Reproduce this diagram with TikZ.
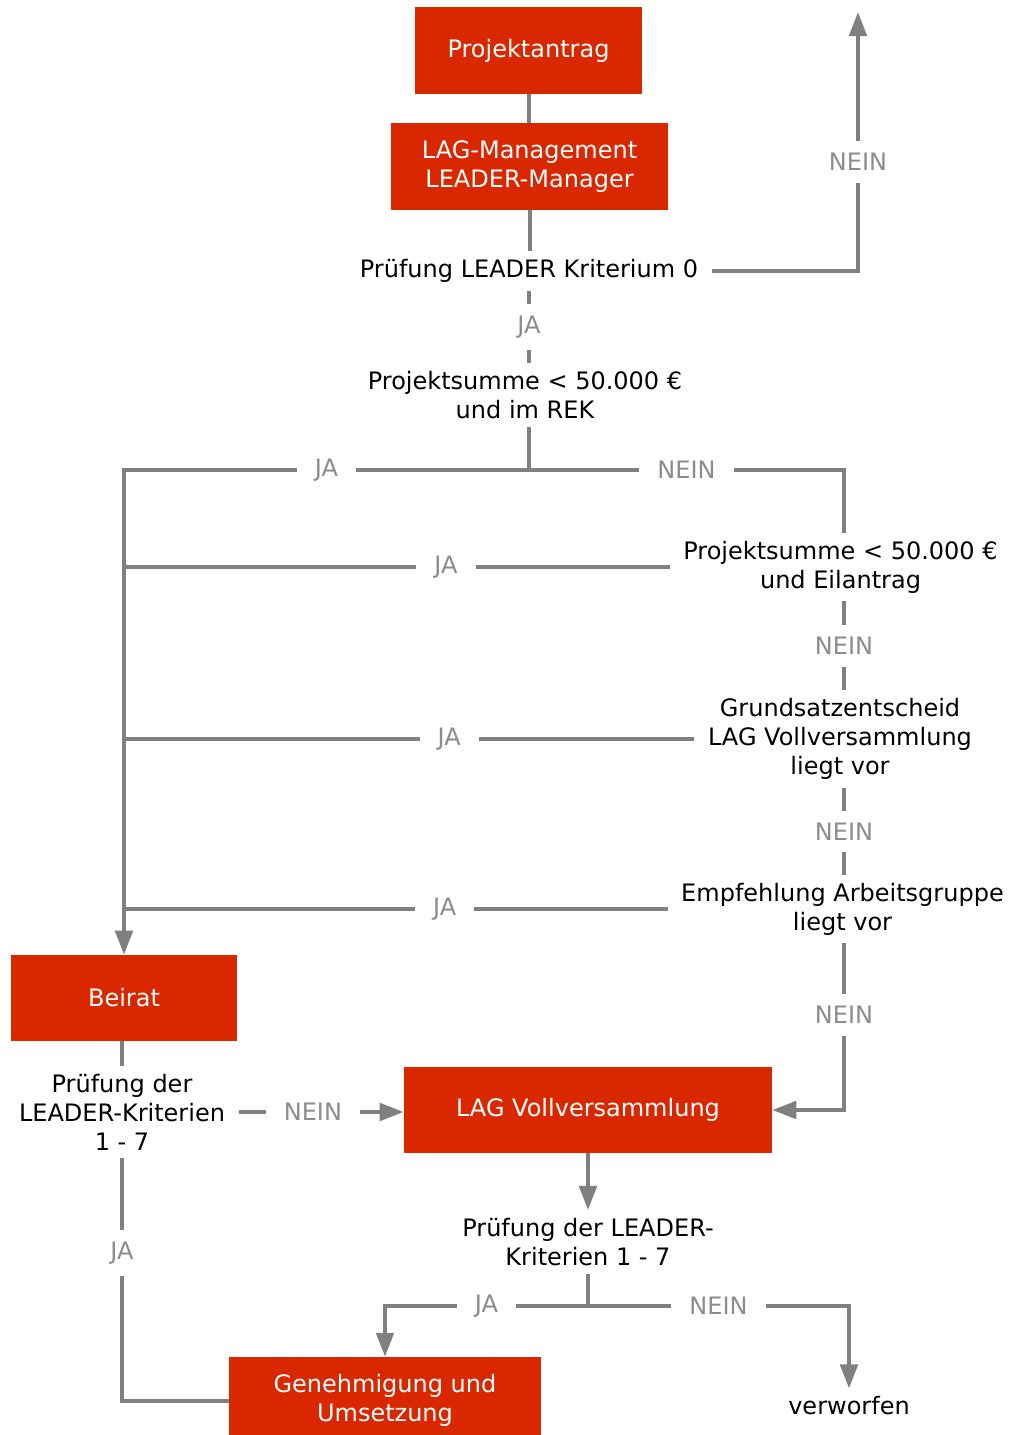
\documentclass[tikz,border=0pt]{standalone}
\usepackage{fontspec}
\setmainfont{DejaVu Sans}
\usetikzlibrary{arrows.meta}
\definecolor{boxred}{RGB}{217,40,0}
\definecolor{linegray}{RGB}{128,128,128}
\definecolor{labelgray}{RGB}{140,140,140}
\begin{document}
\begin{tikzpicture}[x=0.75pt,y=-0.75pt,
  font=\fontsize{18}{21.75}\selectfont,
  redbox/.style={fill=boxred, text=white, align=center, inner sep=0pt, minimum height=65.25pt},
  txt/.style={align=center, inner xsep=10pt, inner ysep=6pt, text=black},
  lbl/.style={fill=white, text=labelgray, inner xsep=13.5pt, inner ysep=9pt},
  conn/.style={draw=linegray, line width=3pt},
  arr/.style={conn, -{Triangle[width=13pt,length=18pt]}},
]
\useasboundingbox (0,0) rectangle (1008,1435);
% nodes
\node[redbox, minimum width=170.25pt] (proj) at (528.5,50.5) {Projektantrag};
\node[redbox, minimum width=207.75pt] (lag) at (529.5,166.5) {LAG-Management\\LEADER-Manager};
\node[txt] (k0) at (529,271) {Prüfung LEADER Kriterium 0};
\node[txt] (ps1) at (525,395) {Projektsumme < 50.000 €\\und im REK};
\node[txt] (ps2) at (840.5,567) {Projektsumme < 50.000 €\\und Eilantrag};
\node[txt] (gs) at (840,739) {Grundsatzentscheid\\LAG Vollversammlung\\liegt vor};
\node[txt] (emp) at (842.5,909) {Empfehlung Arbeitsgruppe\\liegt vor};
\node[redbox, minimum width=169.5pt, minimum height=64.5pt] (beirat) at (124,998) {Beirat};
\node[txt] (k17) at (122,1112) {Prüfung der\\LEADER-Kriterien\\1 - 7};
\node[redbox, minimum width=276pt, minimum height=64.5pt] (vv) at (588,1110) {LAG Vollversammlung};
\node[txt] (k2) at (588,1242) {Prüfung der LEADER-\\Kriterien 1 - 7};
\node[redbox, minimum width=234pt] (gen) at (385,1400.5) {Genehmigung und\\Umsetzung};
\node[txt] (verw) at (849,1406) {verworfen};
% junctions
\coordinate (top) at (858,12);
\coordinate (j1) at (529,470);
\coordinate (jl) at (124,470);
\coordinate (jr) at (844,470);
\coordinate (j2) at (588,1306);
% connectors
\draw[conn] (proj.south) -- (proj.south |- lag.north);
\draw[conn] (lag.south) -- (lag.south |- k0.north);
\draw[arr] (k0.east) -- (k0.east -| top) -- node[lbl, pos=0.42]{NEIN} (top);
\draw[conn] (k0.south) -- node[lbl]{JA} (ps1.north -| k0.south);
\draw[conn] (ps1.south -| j1) -- (j1);
\draw[arr] (j1) -- node[lbl]{JA} (jl) -- (beirat.north -| jl);
\draw[conn] (j1) -- node[lbl]{NEIN} (jr) -- (ps2.north -| jr);
\draw[conn] (ps2.west) -- node[lbl, pos=0.41]{JA} (ps2.west -| jl);
\draw[conn] (ps2.south -| jr) -- node[lbl]{NEIN} (gs.north -| jr);
\draw[conn] (gs.west) -- node[lbl, pos=0.43]{JA} (gs.west -| jl);
\draw[conn] (gs.south -| jr) -- node[lbl]{NEIN} (emp.north -| jr);
\draw[conn] (emp.west) -- node[lbl, pos=0.41]{JA} (emp.west -| jl);
\draw[arr] (emp.south -| jr) -- node[lbl, pos=0.43]{NEIN} (vv.east -| jr) -- (vv.east);
\draw[conn] (beirat.south -| k17.north) -- (k17.north);
\draw[arr] (k17.east) -- node[lbl, pos=0.45]{NEIN} (vv.west |- k17.east);
\draw[conn] (k17.south) -- node[lbl, pos=0.39]{JA} (k17.south |- gen.west) -- (gen.west);
\draw[arr] (vv.south) -- (k2.north);
\draw[conn] (k2.south) -- (j2);
\draw[arr] (j2) -- node[lbl]{JA} (j2 -| gen.north) -- (gen.north);
\draw[arr] (j2) -- node[lbl]{NEIN} (j2 -| verw.north) -- (verw.north);
\end{tikzpicture}
\end{document}
